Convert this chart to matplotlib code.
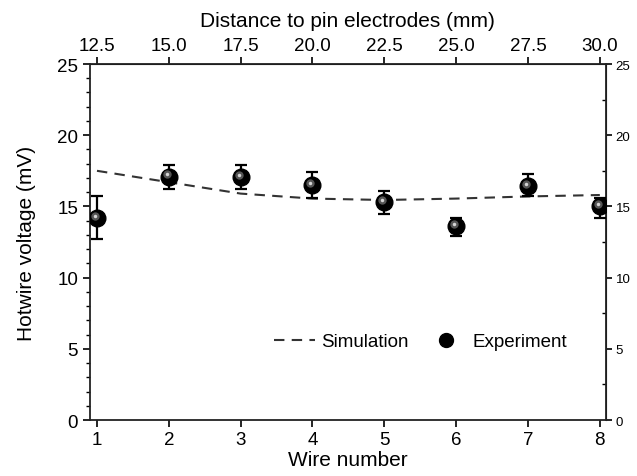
import matplotlib
matplotlib.use("Agg")
import matplotlib.pyplot as plt
import matplotlib.transforms as mtrans
from matplotlib.ticker import MultipleLocator
from matplotlib.lines import Line2D

plt.rcParams['font.family'] = ['Liberation Sans', 'DejaVu Sans']

# data
wire = [1, 2, 3, 4, 5, 6, 7, 8]
sim_voltage = [17.5, 16.7, 15.9, 15.55, 15.45, 15.55, 15.7, 15.8]
exp_voltage = [14.2, 17.1, 17.05, 16.5, 15.3, 13.6, 16.4, 15.0]
err_up = [15.7, 17.9, 17.9, 17.4, 16.1, 14.2, 17.3, 15.6]
err_low = [12.7, 16.2, 16.2, 15.6, 14.5, 12.9, 15.7, 14.2]
dist_ticks = [12.5, 15.0, 17.5, 20.0, 22.5, 25.0, 27.5, 30.0]
volt_ticks = [0, 5, 10, 15, 20, 25]

yerr = [[e - l for e, l in zip(exp_voltage, err_low)],
        [u - e for u, e in zip(err_up, exp_voltage)]]

fig = plt.figure(figsize=(6.37, 4.77), dpi=100)
ax = fig.add_axes([0.1413, 0.1174, 0.8097, 0.7463])

# simulation
ax.plot(wire, sim_voltage, color='#333333', lw=1.5, dashes=(5, 3.5), zorder=2)

# experiment (error bars + shaded ball)
ax.errorbar(wire, exp_voltage, yerr=yerr, fmt='none', ecolor='black',
            elinewidth=1.6, capsize=4, capthick=1.6, zorder=3)
ax.plot(wire, exp_voltage, 'o', color='black', ms=12, zorder=4)
shift = mtrans.offset_copy(ax.transData, fig=fig, x=-1.5, y=1.5, units='points')
ax.plot(wire, exp_voltage, 'o', color='#555555', ms=6, mec='none', transform=shift, zorder=5)
ax.plot(wire, exp_voltage, 'o', color='#d5d5d5', ms=2.5, mec='none', transform=shift, zorder=6)

ax.set_xlim(0.903, 8.083)
ax.set_ylim(0, 25)
ax.set_xticks(wire)
ax.set_yticks(volt_ticks)
ax.yaxis.set_minor_locator(MultipleLocator(1))
ax.tick_params(axis='both', which='major', labelsize=13.5, length=5, width=1.2, direction='out')
ax.tick_params(axis='y', which='minor', length=3, width=1, direction='out')
ax.tick_params(axis='x', which='major', pad=3)
ax.set_xlabel('Wire number', fontsize=15, labelpad=1)
ax.set_ylabel('Hotwire voltage (mV)', fontsize=15, labelpad=15)
for s in ax.spines.values():
    s.set_linewidth(1.3)
    s.set_color('#222222')

# top axis: distance to pin electrodes
top = ax.secondary_xaxis('top', functions=(lambda w: 12.5 + 2.5 * (w - 1),
                                           lambda d: 1 + (d - 12.5) / 2.5))
top.set_xticks(dist_ticks)
top.set_xticklabels(['%.1f' % d for d in dist_ticks])
top.tick_params(labelsize=13.5, length=5, width=1.2, direction='out', pad=2)
top.set_xlabel('Distance to pin electrodes (mm)', fontsize=15, labelpad=8)

# right axis
right = ax.secondary_yaxis('right')
right.set_yticks(volt_ticks)
right.set_yticks([2.5, 7.5, 12.5, 17.5, 22.5], minor=True)
right.tick_params(which='major', labelsize=9.5, length=4, width=1.2, direction='out', pad=3)
right.tick_params(which='minor', length=3, width=1, direction='in')

handles = [Line2D([], [], color='#333333', lw=1.5, dashes=(5, 3.5)),
           Line2D([], [], marker='o', ls='none', color='black', ms=10)]
ax.legend(handles, ['Simulation', 'Experiment'], loc='center', bbox_to_anchor=(0.641, 0.22),
          ncol=2, frameon=False, fontsize=13.5, handlelength=2.2, handletextpad=0.3,
          columnspacing=0.9)

fig.savefig('out.png', dpi=100)
